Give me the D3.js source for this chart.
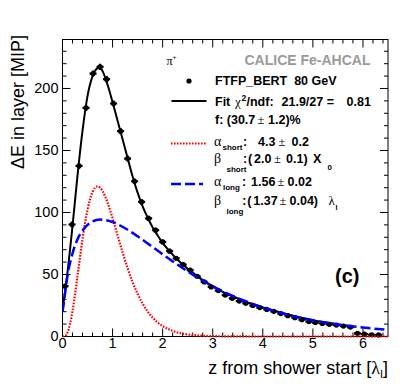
<!DOCTYPE html>
<html>
<head>
<meta charset="utf-8">
<script src="https://cdn.jsdelivr.net/npm/d3@7"></script>
<style>
  body { margin: 0; background: #fff; }
  svg { display: block; font-family: "Liberation Sans", Arial, Helvetica, sans-serif; }
  .tick text { font-size: 14.5px; fill: #000; font-family: "Liberation Sans", Arial, sans-serif; }
  .tick line { stroke: #000; }
  .leg { font-weight: bold; white-space: pre; fill: #000; }
  .greek { font-family: "Liberation Serif", "Times New Roman", serif; font-weight: normal; fill: #000; }
</style>
</head>
<body>
<div id="wrapper"></div>
<script>
// energy per layer vs z from shower start (bin centres in lambda_I)
const layerZ = [0.05, 0.19, 0.33, 0.47, 0.61, 0.75, 0.88, 1.02, 1.16, 1.30,
  1.44, 1.58, 1.72, 1.86, 2.00, 2.14, 2.27, 2.41, 2.55, 2.69,
  2.83, 2.97, 3.11, 3.25, 3.39, 3.53, 3.66, 3.80, 3.94, 4.08,
  4.22, 4.36, 4.50, 4.64, 4.78, 4.92, 5.05, 5.19, 5.33, 5.47,
  5.61, 5.75, 5.89, 6.03, 6.17, 6.31]
const layerDE = [40.6, 90.3, 137.6, 184.4, 212.0, 217.4, 207.5, 187.9, 165.6, 143.5,
  125.2, 108.5, 95.2, 85.7, 76.3, 68.8, 63.0, 58.0, 53.5, 48.6,
  44.0, 40.0, 37.0, 33.4, 30.8, 28.6, 26.8, 25.0, 23.3, 21.8,
  20.3, 18.5, 16.8, 15.2, 13.5, 12.0, 11.2, 10.5, 9.8, 9.2,
  8.4, 7.6, 2.6, 1.9, 1.4, 1.3]
const layerErr = [2.0, 2.4, 2.5, 2.5, 2.5, 2.5, 2.5, 2.5, 2.5, 2.4,
  2.3, 2.2, 2.1, 2.0, 2.0, 1.9, 1.8, 1.8, 1.7, 1.7,
  1.6, 1.6, 1.5, 1.5, 1.5, 1.5, 1.4, 1.4, 1.4, 1.4,
  1.3, 1.3, 1.3, 1.3, 1.2, 1.2, 1.2, 1.2, 1.2, 1.2,
  1.2, 1.2, 1.2, 1.2, 1.2, 1.2]
const binHalfWidth = 0.07

// total fit
const fitZ = [0.00, 0.05, 0.10, 0.20, 0.30, 0.40, 0.50, 0.60, 0.70, 0.75,
  0.80, 0.90, 1.00, 1.10, 1.20, 1.30, 1.40, 1.50, 1.60, 1.70,
  1.80, 1.90, 2.00, 2.20, 2.40, 2.60, 2.80, 3.00, 3.25, 3.50,
  3.75, 4.00, 4.50, 5.00, 5.50, 5.80]
const fitDE = [22, 36, 52, 89, 130, 166, 194, 210, 216.5, 217,
  214, 203, 189, 174, 159, 144, 129, 116, 105, 96,
  88, 81.5, 75.5, 66, 58, 51.5, 45.5, 40.5, 35, 30.8,
  26.8, 23.5, 17.7, 13.2, 9.8, 8.1]

// short component
const shortZ = [0.00, 0.05, 0.10, 0.15, 0.20, 0.30, 0.40, 0.50, 0.60, 0.70,
  0.80, 0.90, 1.00, 1.10, 1.20, 1.30, 1.40, 1.60, 1.80, 2.00,
  2.20, 2.40, 2.60, 2.80, 3.00, 3.50, 4.00, 5.00, 6.50]
const shortDE = [0, 0.4, 3.3, 10, 20.5, 48.8, 78.6, 102.4, 116.6, 121,
  117.3, 108, 95.4, 81.5, 67.8, 55.1, 43.9, 26.5, 15.2, 8.4,
  4.5, 2.3, 1.2, 0.6, 0.3, 0.05, 0, 0, 0]

// long component
const longZ = [0.00, 0.03, 0.05, 0.10, 0.20, 0.30, 0.40, 0.50, 0.60, 0.75,
  0.90, 1.00, 1.25, 1.50, 1.75, 2.00, 2.50, 3.00, 3.50, 4.00,
  4.50, 5.00, 5.50, 6.00, 6.50]
const longDE = [20, 28, 34.5, 49, 67, 78.5, 85.5, 90, 92.8, 94.3,
  93.6, 92.3, 87.3, 80.8, 73.6, 66.3, 52.5, 40.5, 31, 23.5,
  17.6, 13.1, 9.7, 7.2, 5.4]

const xTicks = [0, 1, 2, 3, 4, 5, 6]
const yTicks = [0, 50, 100, 150, 200]

function drawChart() {
  let dimensions = {
    width: 409,
    height: 392,
    margin: { top: 39.5, right: 21, bottom: 55.5, left: 62.5 }
  }
  dimensions.boundedWidth = dimensions.width - dimensions.margin.left - dimensions.margin.right
  dimensions.boundedHeight = dimensions.height - dimensions.margin.top - dimensions.margin.bottom

  const wrapper = d3.select("#wrapper")
    .append("svg")
      .attr("width", dimensions.width)
      .attr("height", dimensions.height)

  const bounds = wrapper.append("g")
    .attr("transform", `translate(${dimensions.margin.left},${dimensions.margin.top})`)

  const xScale = d3.scaleLinear()
    .domain([0, 6.5])
    .range([0, dimensions.boundedWidth])

  const yScale = d3.scaleLinear()
    .domain([0, 239.5])
    .range([dimensions.boundedHeight, 0])

  // ticks, ROOT style (inside the frame, on all four sides)
  const xMinor = d3.range(0.2, 6.5, 0.2).filter(v => Math.abs(v - Math.round(v)) > 0.01)
  const yMinor = d3.range(10, 240, 10).filter(v => v % 50 != 0)

  const addAxis = (gen, tx, ty) => {
    const g = bounds.append("g")
      .attr("transform", `translate(${tx},${ty})`)
      .call(gen.offset(0))
    g.select(".domain").remove()
    return g
  }

  addAxis(d3.axisBottom(xScale).tickValues(xTicks).tickSize(-8).tickPadding(1.5).tickFormat(d3.format("d")), 0, dimensions.boundedHeight)
  addAxis(d3.axisBottom(xScale).tickValues(xMinor).tickSize(-4).tickFormat(""), 0, dimensions.boundedHeight)
  addAxis(d3.axisTop(xScale).tickValues(xTicks).tickSize(-8).tickFormat(""), 0, 0)
  addAxis(d3.axisTop(xScale).tickValues(xMinor).tickSize(-4).tickFormat(""), 0, 0)
  addAxis(d3.axisLeft(yScale).tickValues(yTicks).tickSize(-8).tickPadding(4), 0, 0)
  addAxis(d3.axisLeft(yScale).tickValues(yMinor).tickSize(-4).tickFormat(""), 0, 0)
  addAxis(d3.axisRight(yScale).tickValues(yTicks).tickSize(-8).tickFormat(""), dimensions.boundedWidth, 0)
  addAxis(d3.axisRight(yScale).tickValues(yMinor).tickSize(-4).tickFormat(""), dimensions.boundedWidth, 0)

  bounds.append("rect")
    .attr("width", dimensions.boundedWidth)
    .attr("height", dimensions.boundedHeight)
    .attr("fill", "none")
    .attr("stroke", "#000")

  bounds.append("clipPath").attr("id", "clip")
    .append("rect")
      .attr("width", dimensions.boundedWidth)
      .attr("height", dimensions.boundedHeight + 2)

  const plot = bounds.append("g").attr("clip-path", "url(#clip)")

  const lineOf = (zs, vs) => d3.line()
    .x((d, i) => xScale(zs[i]))
    .y((d, i) => yScale(vs[i]))
    .curve(d3.curveMonotoneX)(vs)

  plot.append("path")
    .attr("d", lineOf(fitZ, fitDE))
    .attr("fill", "none")
    .attr("stroke", "#000")
    .attr("stroke-width", 2)

  const points = plot.selectAll(".pt")
    .data(layerZ)
    .enter().append("g")
      .attr("class", "pt")
  points.append("line")
    .attr("x1", d => xScale(d - binHalfWidth))
    .attr("x2", d => xScale(d + binHalfWidth))
    .attr("y1", (d, i) => yScale(layerDE[i]))
    .attr("y2", (d, i) => yScale(layerDE[i]))
    .attr("stroke", "#000")
    .attr("stroke-width", 2.2)
  points.append("line")
    .attr("x1", d => xScale(d))
    .attr("x2", d => xScale(d))
    .attr("y1", (d, i) => yScale(layerDE[i] - layerErr[i]))
    .attr("y2", (d, i) => yScale(layerDE[i] + layerErr[i]))
    .attr("stroke", "#000")
    .attr("stroke-width", 2.2)
  points.append("circle")
    .attr("cx", d => xScale(d))
    .attr("cy", (d, i) => yScale(layerDE[i]))
    .attr("r", 2.6)
    .attr("fill", "#000")

  plot.append("path")
    .attr("d", lineOf(shortZ, shortDE))
    .attr("fill", "none")
    .attr("stroke", "#ff0000")
    .attr("stroke-width", 2.2)
    .attr("stroke-dasharray", "1.6,1.4")

  plot.append("path")
    .attr("d", lineOf(longZ, longDE))
    .attr("fill", "none")
    .attr("stroke", "#0000ff")
    .attr("stroke-width", 2.5)
    .attr("stroke-dasharray", "10,4")

  // axis titles
  wrapper.append("text")
    .attr("transform", "translate(24,35) rotate(-90)")
    .attr("text-anchor", "end")
    .style("font-size", "18px")
    .text("ΔE in layer [MIP]")

  const xTitle = wrapper.append("text")
    .attr("x", 388)
    .attr("y", 373.5)
    .attr("text-anchor", "end")
    .style("font-size", "18px")
  xTitle.append("tspan").text("z from shower start [")
  xTitle.append("tspan").attr("class", "greek").text("λ")
  xTitle.append("tspan").style("font-size", "11px").attr("dy", 4).text("I")
  xTitle.append("tspan").attr("dy", -4).text("]")

  // legend and labels
  const label = (x, y, s, size, cls) => wrapper.append("text")
    .attr("x", x)
    .attr("y", y)
    .attr("class", cls || "leg")
    .style("font-size", (size || 12.5) + "px")
    .text(s)

  label(370.5, 65, "CALICE Fe-AHCAL", 14)
    .attr("text-anchor", "end")
    .style("fill", "#9a9a9a")
  label(166.5, 65, "π", 12, "greek")
  label(172.3, 59.5, "+", 8, "greek")

  wrapper.append("circle")
    .attr("cx", 189)
    .attr("cy", 81)
    .attr("r", 2.6)
  label(215, 85, "FTFP_BERT  80 GeV")

  wrapper.append("line")
    .attr("x1", 171.5).attr("x2", 206.5)
    .attr("y1", 101).attr("y2", 101)
    .attr("stroke", "#000").attr("stroke-width", 2)
  label(215, 105.5, "Fit")
  label(235, 105.5, "χ", 13, "greek")
  label(241.5, 100.5, "2", 8.5)
  label(246.5, 105.5, "/ndf:")
  label(281.5, 105.5, "21.9/27 =")
  label(346.5, 105.5, "0.81")

  label(215, 124, "f: (30.7")
  label(257.5, 124, "±", 12.5, "greek")
  label(268, 124, "1.2)%")

  wrapper.append("line")
    .attr("x1", 171).attr("x2", 206)
    .attr("y1", 143.5).attr("y2", 143.5)
    .attr("stroke", "#ff0000").attr("stroke-width", 2.2)
    .attr("stroke-dasharray", "1.6,1.4")
  label(214, 146, "α", 14, "greek")
  label(222.5, 149.5, "short", 8)
  label(243, 146, ":")
  label(258, 146, "4.3")
  label(278.5, 146, "±", 12.5, "greek")
  label(291.5, 146, "0.2")

  label(214, 163, "β", 14, "greek")
  label(226.5, 171.5, "short", 8)
  label(243, 163, ":")
  label(248, 163, "(")
  label(254, 163, "2.0")
  label(274, 163, "±", 12.5, "greek")
  label(286, 163, "0.1)")
  label(313, 163, "X")
  label(327.5, 169.5, "0", 8)

  wrapper.append("line")
    .attr("x1", 171).attr("x2", 203)
    .attr("y1", 184).attr("y2", 184)
    .attr("stroke", "#0000ff").attr("stroke-width", 2.5)
    .attr("stroke-dasharray", "10,4")
  label(214, 186, "α", 14, "greek")
  label(223, 190, "long", 8)
  label(242, 186, ":")
  label(251, 186, "1.56")
  label(277.5, 186, "±", 12.5, "greek")
  label(287.5, 186, "0.02")

  label(214, 205, "β", 14, "greek")
  label(226.5, 213.5, "long", 8)
  label(242.3, 205, ":")
  label(247.3, 205, "(")
  label(253.3, 205, "1.37")
  label(279.5, 205, "±", 12.5, "greek")
  label(289.5, 205, "0.04)")
  label(328.5, 205, "λ", 13, "greek")
  label(335.5, 210, "I", 7)

  label(335, 283, "(c)", 20)
}

drawChart()
</script>
</body>
</html>
